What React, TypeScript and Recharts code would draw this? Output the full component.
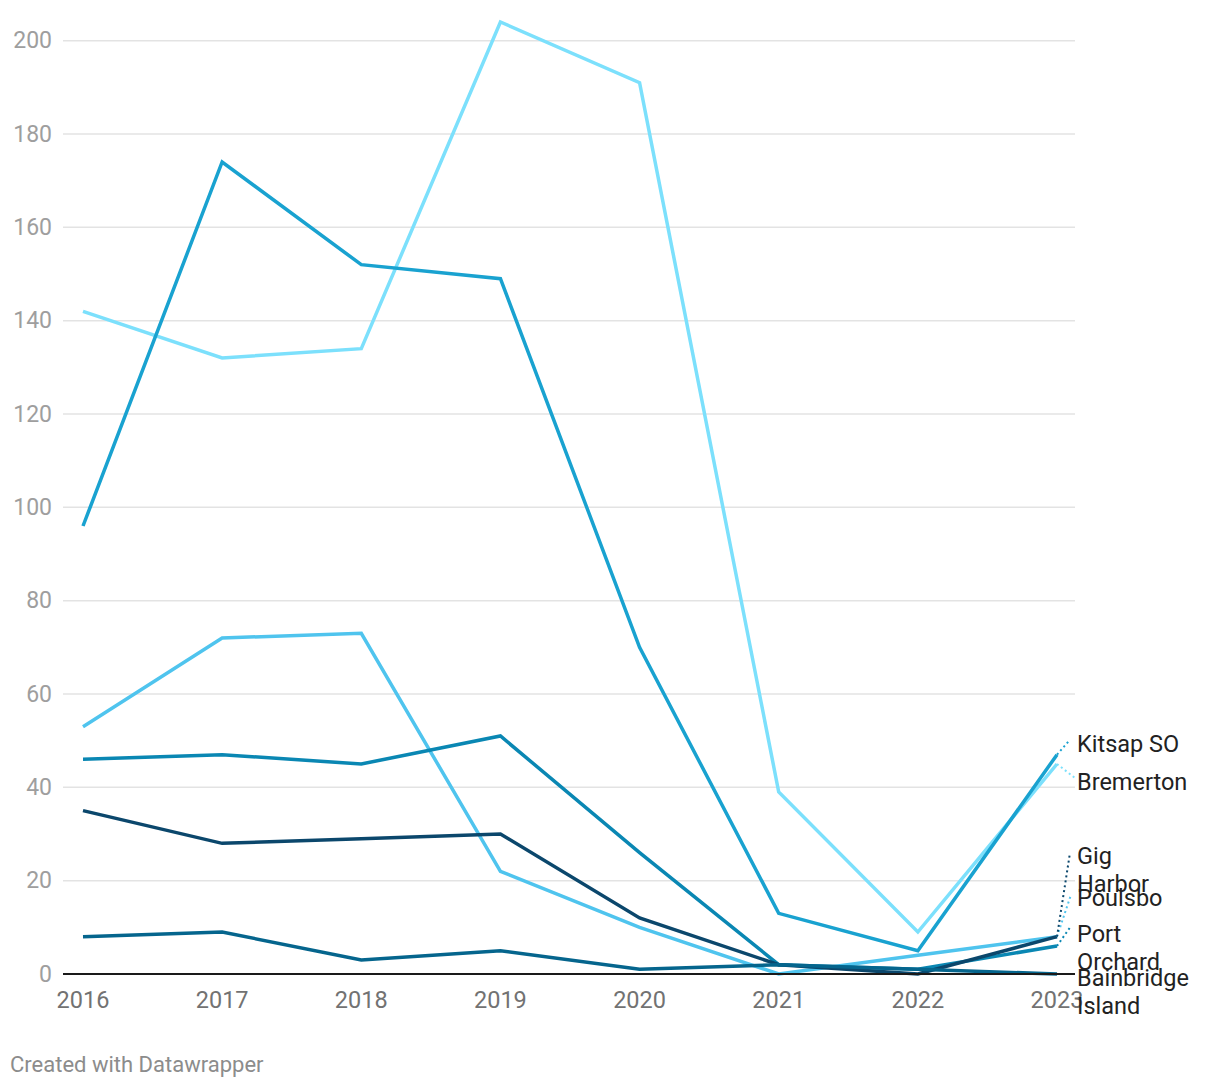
import React from 'react';
import { LineChart, Line, XAxis, YAxis, CartesianGrid } from 'recharts';

const years = [2016, 2017, 2018, 2019, 2020, 2021, 2022, 2023];
const bremerton = [142, 132, 134, 204, 191, 39, 9, 45];
const kitsapSO = [96, 174, 152, 149, 70, 13, 5, 47];
const poulsbo = [53, 72, 73, 22, 10, 0, 4, 8];
const portOrchard = [46, 47, 45, 51, 26, 2, 1, 6];
const gigHarbor = [35, 28, 29, 30, 12, 2, 0, 8];
const bainbridgeIsland = [8, 9, 3, 5, 1, 2, 1, 0];
const yTicks = [0, 20, 40, 60, 80, 100, 120, 140, 160, 180, 200];

const data = years.map((year, i) => ({
  year,
  bremerton: bremerton[i],
  kitsapSO: kitsapSO[i],
  poulsbo: poulsbo[i],
  portOrchard: portOrchard[i],
  gigHarbor: gigHarbor[i],
  bainbridgeIsland: bainbridgeIsland[i],
}));

// style / label layout config
const series = [
  { key: 'bremerton', lines: ['Bremerton'], color: '#7ce0fc', textDy: 18, leadDx: 18, leadDy: 14 },
  { key: 'kitsapSO', lines: ['Kitsap SO'], color: '#19a2d0', textDy: -11, leadDx: 13, leadDy: -15 },
  { key: 'poulsbo', lines: ['Poulsbo'], color: '#4fc4ee', textDy: -39, leadDx: 14, leadDy: -42 },
  { key: 'portOrchard', lines: ['Port', 'Orchard'], color: '#0a87b3', textDy: -12, leadDx: 14, leadDy: -20 },
  { key: 'gigHarbor', lines: ['Gig', 'Harbor'], color: '#0b476c', textDy: -81, leadDx: 13, leadDy: -84 },
  { key: 'bainbridgeIsland', lines: ['Bainbridge', 'Island'], color: '#05658d', textDy: 4, leadDx: 0, leadDy: 0 },
];

const FONT = 'Roboto, "Noto Sans", sans-serif';

const makeLabel = (s: any) => (props: any) => {
  const { x, y, index } = props;
  if (index !== years.length - 1 || x == null || y == null) return null;
  const tx = x + 20;
  const ty = y + s.textDy;
  return (
    <g>
      {s.leadDx !== 0 && (
        <line
          x1={x}
          y1={y}
          x2={x + s.leadDx}
          y2={y + s.leadDy}
          stroke={s.color}
          strokeWidth={2}
          strokeDasharray="2 3"
        />
      )}
      <text x={tx} y={ty} fontFamily={FONT} fontSize={23.5} fill="#222" dominantBaseline="central">
        {s.lines.map((l: string, i: number) => (
          <tspan key={i} x={tx} dy={i === 0 ? 0 : 28}>
            {l}
          </tspan>
        ))}
      </text>
    </g>
  );
};

const XTick = (props: any) => {
  const { x, y, payload } = props;
  return (
    <text x={x} y={y + 26} textAnchor="middle" dominantBaseline="central" fontFamily={FONT} fontSize={23.5} fill="#727272">
      {payload.value}
    </text>
  );
};

const YTick = (props: any) => {
  const { x, y, payload } = props;
  return (
    <text x={x - 11} y={y} textAnchor="end" dominantBaseline="central" fontFamily={FONT} fontSize={23} fill="#9e9e9e">
      {payload.value}
    </text>
  );
};

export default function App() {
  return (
    <div style={{ position: 'absolute', left: 0, top: 0, width: 1220, height: 1090, background: '#fff', fontFamily: FONT }}>
      <LineChart
        width={1220}
        height={1090}
        data={data}
        margin={{ top: 22, right: 145, bottom: 76, left: 0 }}
      >
        <CartesianGrid
          vertical={false}
          horizontalValues={yTicks}
          syncWithTicks
          stroke="#e3e3e3"
          strokeWidth={1.5}
        />
        <XAxis
          dataKey="year"
          type="number"
          domain={[2016, 2023]}
          ticks={years}
          padding={{ left: 20, right: 18 }}
          tickLine={false}
          tickSize={0}
          tickMargin={0}
          axisLine={{ stroke: '#1a1a1a', strokeWidth: 2 }}
          height={40}
          tick={<XTick />}
          interval={0}
        />
        <YAxis
          domain={[0, 204]}
          ticks={yTicks}
          width={63}
          axisLine={false}
          tickLine={false}
          tickSize={0}
          tickMargin={0}
          tick={<YTick />}
          interval={0}
        />
        {series.map((s) => (
          <Line
            key={s.key}
            dataKey={s.key}
            type="linear"
            stroke={s.color}
            strokeWidth={3.5}
            dot={false}
            activeDot={false}
            isAnimationActive={false}
            label={makeLabel(s)}
          />
        ))}
      </LineChart>
      <div style={{ position: 'absolute', left: 10, top: 1052, fontSize: 22, color: '#8c8c8c', fontFamily: FONT }}>
        Created with Datawrapper
      </div>
    </div>
  );
}
